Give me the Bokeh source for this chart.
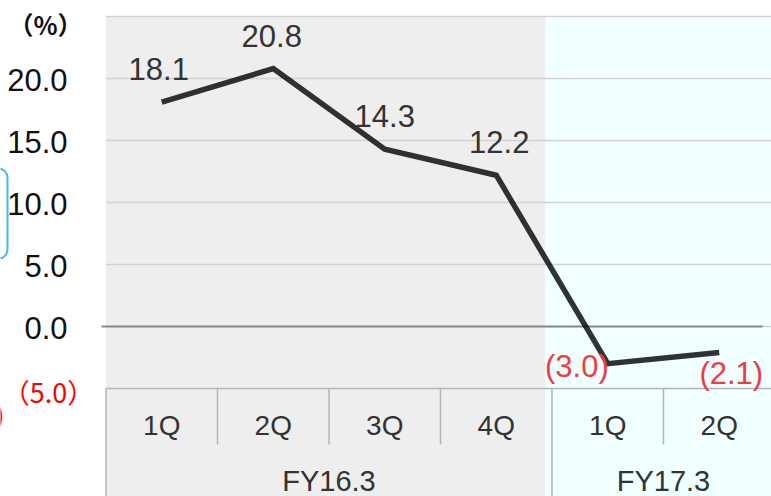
from bokeh.plotting import figure
from bokeh.models import ColumnDataSource, Range1d, BoxAnnotation
from bokeh.core.properties import value
from bokeh.embed import file_html
from bokeh.resources import INLINE

# Quarterly margin (%) by fiscal period
periods = ["FY16.3", "FY16.3", "FY16.3", "FY16.3", "FY17.3", "FY17.3"]
quarters = ["1Q", "2Q", "3Q", "4Q", "1Q", "2Q"]
margin_pct = [18.1, 20.8, 14.3, 12.2, -3.0, -2.1]

# Value axis
y_ticks = [-5, 0, 5, 10, 15, 20]
y_grid = [0, 5, 10, 15, 20, 25]
unit_label = "（%）"

FONT = value("Liberation Sans")
CJK = value("Noto Sans CJK JP")
W, H = 771, 496

# Layout in canvas pixels: category band width and value scale
PX_LEFT, CAT_W = 105.5, 111.5
PX_ZERO, PX_PER_UNIT = 326.0, 12.4


def px_x(px):
    return (px - PX_LEFT) / CAT_W - 0.5


def px_y(py):
    return (PX_ZERO - py) / PX_PER_UNIT


x_range = Range1d(px_x(0), px_x(W))
y_range = Range1d(px_y(H), px_y(0))

p = figure(width=W, height=H, x_range=x_range, y_range=y_range,
           toolbar_location=None, output_backend="svg",
           x_axis_location=None, y_axis_location=None,
           min_border=0, outline_line_color=None,
           background_fill_color="white", border_fill_color="white")
p.xgrid.visible = False
p.ygrid.visible = False

n = len(quarters)
idx = list(range(n))
y_top = max(y_grid)
y_floor = min(y_ticks)

# Period shading (FY16.3 grey, FY17.3 pale cyan)
split = px_x(545)
p.quad(left=[-0.5], right=[split], top=[y_top], bottom=[y_range.start],
       fill_color="#eeeeee", line_color=None)
p.quad(left=[split], right=[x_range.end], top=[y_top], bottom=[y_range.start],
       fill_color="#f0ffff", line_color=None)

# Horizontal gridlines
p.segment(x0=[-0.5] * len(y_grid), x1=[x_range.end] * len(y_grid),
          y0=y_grid, y1=y_grid, line_color="#d2d2d2", line_width=1.5)
# Zero line
p.segment(x0=[px_x(101)], x1=[px_x(762)], y0=[0], y1=[0],
          line_color="#8a8a8a", line_width=2)

# Category table below the plot
tbl = "#b4b4b4"
q_row_bottom = px_y(444)
p.segment(x0=[-0.5], x1=[x_range.end], y0=[y_floor], y1=[y_floor],
          line_color=tbl, line_width=1.5)
p.segment(x0=[-0.5], x1=[-0.5], y0=[y_floor], y1=[y_range.start],
          line_color=tbl, line_width=1.5)
group_edges = [i + 0.5 for i in range(n - 1) if periods[i] != periods[i + 1]]
inner_edges = [i + 0.5 for i in range(n - 1) if periods[i] == periods[i + 1]]
p.segment(x0=inner_edges, x1=inner_edges,
          y0=[y_floor] * len(inner_edges), y1=[q_row_bottom] * len(inner_edges),
          line_color=tbl, line_width=1.5)
p.segment(x0=group_edges, x1=group_edges,
          y0=[y_floor] * len(group_edges), y1=[y_range.start] * len(group_edges),
          line_color=tbl, line_width=1.5)

p.text(x=idx, y=[px_y(425)] * n, text=quarters, text_font=FONT,
       text_font_size="28px", text_color="#333333",
       text_align="center", text_baseline="alphabetic")

group_names = list(dict.fromkeys(periods))
group_centers = [sum(i for i in idx if periods[i] == g) /
                 periods.count(g) for g in group_names]
p.text(x=group_centers, y=[px_y(480)] * len(group_names), text=group_names,
       text_font=FONT, text_font_size="29px", text_color="#333333",
       text_align="center", text_baseline="alphabetic")

# Margin line
p.line(x=idx, y=margin_pct, line_color="black", line_alpha=0.8,
       line_width=5.5, line_join="miter")


# Value labels
def fmt(v):
    return f"({abs(v):.1f})" if v < 0 else f"{v:.1f}"


pos = [i for i in idx if margin_pct[i] >= 0]
neg = [i for i in idx if margin_pct[i] < 0]
pos_dx = {0: -3, 1: -1.5, 2: 0, 3: 3}
p.text(x=pos, y=[margin_pct[i] for i in pos],
       text=[fmt(margin_pct[i]) for i in pos],
       x_offset=[pos_dx.get(i, 0) for i in pos], y_offset=-33,
       text_font=FONT, text_font_size="31px", text_color="#333333",
       text_align="center", text_baseline="alphabetic")

neg_src = ColumnDataSource(dict(
    x=neg, y=[margin_pct[i] for i in neg],
    text=[fmt(margin_pct[i]) for i in neg],
    align=["right", "center"][:len(neg)],
    dx=[1, 12][:len(neg)], dy=[3, 21][:len(neg)],
))
p.text(x="x", y="y", text="text", x_offset="dx", y_offset="dy",
       text_align="align", source=neg_src, text_font=FONT,
       text_font_size="31px", text_color="#f03c3c", text_baseline="alphabetic")

# Value axis labels
tick_x = px_x(67)
pos_ticks = [t for t in y_ticks if t >= 0]
p.text(x=[tick_x] * len(pos_ticks), y=pos_ticks,
       text=[f"{t:.1f}" for t in pos_ticks], text_font=FONT,
       text_font_size="31px", text_color="#111111", y_offset=1,
       text_align="right", text_baseline="alphabetic")
neg_ticks = [t for t in y_ticks if t < 0]
p.text(x=[px_x(48)] * len(neg_ticks), y=neg_ticks,
       text=[f"（{abs(t):.1f}）" for t in neg_ticks], text_font=CJK,
       text_font_size="27px", text_color="#ff0000",
       text_align="center", text_baseline="middle", y_offset=3)
p.text(x=[px_x(45)], y=[px_y(23)], text=[unit_label], text_font=CJK,
       text_font_size="25px", text_font_style="bold", text_color="#111111",
       text_align="center", text_baseline="middle")

# Edge of the neighbouring panel
p.add_layout(BoxAnnotation(left=px_x(-30), right=px_x(7),
                           top=px_y(168), bottom=px_y(258),
                           fill_alpha=0, line_color="#45b8f0", line_alpha=1.0,
                           line_width=2, border_radius=9))
p.text(x=[px_x(4)], y=[px_y(413)], text=[")"], text_font=CJK,
       text_font_size="26px", text_color="#ff0000",
       text_align="right", text_baseline="middle")

open("out.html", "w").write(file_html(p, INLINE))
